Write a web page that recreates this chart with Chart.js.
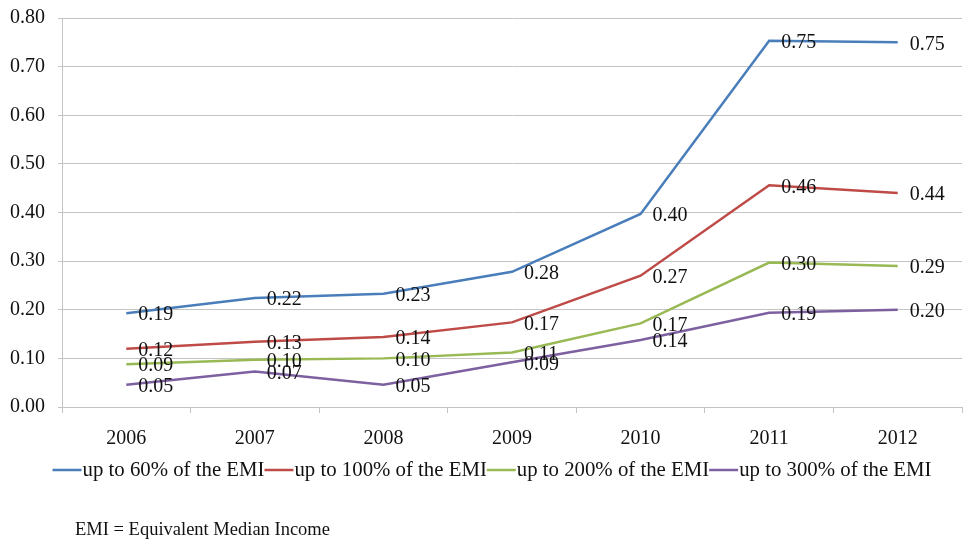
<!DOCTYPE html>
<html>
<head>
<meta charset="utf-8">
<script src="https://cdn.jsdelivr.net/npm/chart.js@4.4.1/dist/chart.umd.min.js"></script>
<style>
  html, body { margin: 0; padding: 0; background: #fff; }
  #wrap { position: relative; width: 963px; height: 542px; }
</style>
</head>
<body>
<div id="wrap"><canvas id="emiChart"></canvas></div>
<script>
/* ── DATA ─────────────────────────────────────────────────────── */
const years = ['2006', '2007', '2008', '2009', '2010', '2011', '2012'];

const upTo60  = [0.193, 0.224, 0.233, 0.278, 0.397, 0.753, 0.750];
const upTo100 = [0.120, 0.134, 0.144, 0.174, 0.270, 0.456, 0.440];
const upTo200 = [0.088, 0.097, 0.100, 0.112, 0.172, 0.297, 0.290];
const upTo300 = [0.046, 0.073, 0.046, 0.092, 0.138, 0.194, 0.200];

const seriesNames = [
  'up to 60% of the EMI',
  'up to 100% of the EMI',
  'up to 200% of the EMI',
  'up to 300% of the EMI',
];
const seriesColors = ['#4a7ebb', '#be4b48', '#98b954', '#7d60a0'];

const yMin = 0, yMax = 0.8, yStep = 0.1;
const footnote = 'EMI = Equivalent Median Income';

const FONT = "'Liberation Serif', 'Times New Roman', serif";
const GRID = '#c4c4c4';

/* ── PLUGINS ──────────────────────────────────────────────────── */
// value labels to the right of each point
const valueLabels = {
  id: 'valueLabels',
  afterDatasetsDraw(chart) {
    const { ctx } = chart;
    ctx.save();
    ctx.font = `20px ${FONT}`;
    ctx.fillStyle = '#111';
    ctx.textAlign = 'left';
    ctx.textBaseline = 'middle';
    chart.data.datasets.forEach((ds, i) => {
      chart.getDatasetMeta(i).data.forEach((pt, j) => {
        ctx.fillText(ds.data[j].toFixed(2), pt.x + 12, pt.y + 2);
      });
    });
    ctx.restore();
  }
};

// Excel-style legend: short line, text right next to it, no gaps
const lineLegend = {
  id: 'lineLegend',
  afterDraw(chart) {
    const { ctx } = chart;
    const lineLen = 29, y = 470;
    ctx.save();
    ctx.font = `20.8px ${FONT}`;
    ctx.textBaseline = 'middle';
    ctx.textAlign = 'left';
    const items = chart.data.datasets.map(ds => ({
      text: ds.label, color: ds.borderColor, w: lineLen + 1 + ctx.measureText(ds.label).width
    }));
    const total = items.reduce((s, it) => s + it.w, 0);
    let x = 492 - total / 2;
    items.forEach(it => {
      ctx.strokeStyle = it.color;
      ctx.lineWidth = 2.5;
      ctx.beginPath();
      ctx.moveTo(x, y);
      ctx.lineTo(x + lineLen, y);
      ctx.stroke();
      ctx.fillStyle = '#111';
      ctx.fillText(it.text, x + lineLen + 1, y + 1);
      x += it.w;
    });
    // footnote
    ctx.font = `18.5px ${FONT}`;
    ctx.fillText(footnote, 75, 530);
    ctx.restore();
  }
};

/* ── CHART ────────────────────────────────────────────────────── */
const allSeries = [upTo60, upTo100, upTo200, upTo300];

new Chart(document.getElementById('emiChart'), {
  type: 'line',
  data: {
    labels: years,
    datasets: allSeries.map((d, i) => ({
      label: seriesNames[i],
      data: d,
      borderColor: seriesColors[i],
      backgroundColor: seriesColors[i],
      borderWidth: 2.5,
      pointRadius: 0,
      tension: 0,
      fill: false,
    }))
  },
  options: {
    responsive: true,
    maintainAspectRatio: false,
    animation: false,
    layout: { padding: { top: 18, right: 1, bottom: 90, left: 0 } },
    plugins: {
      legend: { display: false },
      tooltip: { enabled: false },
    },
    scales: {
      x: {
        offset: true,
        grid: { offset: true, drawOnChartArea: false, tickLength: 6, color: GRID },
        border: { color: GRID },
        ticks: { color: '#111', font: { family: FONT, size: 20 }, padding: 14, maxRotation: 0 },
        afterFit: s => { s.height = 45; },
      },
      y: {
        min: yMin,
        max: yMax,
        grid: { color: GRID, tickLength: 4 },
        border: { color: GRID },
        ticks: {
          stepSize: yStep,
          color: '#111',
          padding: 13,
          font: { family: FONT, size: 20 },
          callback: v => v.toFixed(2),
        },
        afterFit: s => { s.width = 62; s.paddingTop = 10; s.paddingBottom = 10; },
      }
    }
  },
  plugins: [valueLabels, lineLegend]
});
</script>
</body>
</html>
